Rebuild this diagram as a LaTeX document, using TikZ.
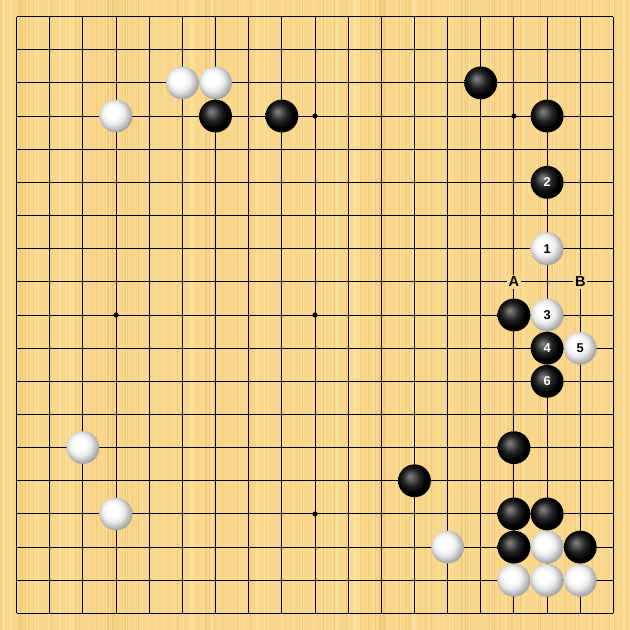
\documentclass[tikz,border=0pt]{standalone}
\usepackage{fontspec}
\setmainfont{Liberation Sans}
\definecolor{board}{RGB}{248,215,140}
\definecolor{graindark}{RGB}{242,203,122}
\definecolor{grainlight}{RGB}{252,225,158}
\pgfdeclareradialshading{whiteball}{\pgfpoint{-7bp}{7bp}}{color(0bp)=(white); color(9bp)=(white); color(17bp)=(black!8); color(25bp)=(black!30); color(32bp)=(black!45); color(50bp)=(black!50)}
\pgfdeclareradialshading{blackball}{\pgfpoint{-7bp}{7bp}}{color(0bp)=(black!48); color(5bp)=(black!62); color(13bp)=(black!86); color(22bp)=(black); color(50bp)=(black)}
\tikzstyle{gridline} = [line width=0.8pt, black]
\tikzstyle{stone} = [circle, minimum size=0.99cm, inner sep=0pt,
    font=\bfseries\fontsize{11}{11}\selectfont]
\tikzstyle{blackstone} = [stone, shading=blackball, text=white]
\tikzstyle{whitestone} = [stone, shading=whiteball, text=black]
\tikzstyle{pointlabel} = [fill=board, inner sep=1.5pt,
    font=\bfseries\fontsize{12.5}{12.5}\selectfont]
\begin{document}
\begin{tikzpicture}[x=1cm,y=-1cm]
  \useasboundingbox (-0.5,-0.5) rectangle (18.5,18.5);
  \clip (-0.5,-0.5) rectangle (18.5,18.5);
  \fill[board] (-0.5,-0.5) rectangle (18.5,18.5);
  % wood grain
  \pgfmathsetseed{11}
  \foreach \k in {1,...,90} {
    \pgfmathsetmacro{\gx}{-0.5+19*rnd}
    \pgfmathsetmacro{\gw}{0.3+0.9*rnd}
    \draw[graindark, line width=\gw pt] (\gx,-0.5) -- (\gx,18.5);
  }
  \foreach \k in {1,...,90} {
    \pgfmathsetmacro{\gx}{-0.5+19*rnd}
    \pgfmathsetmacro{\gw}{0.3+0.9*rnd}
    \draw[grainlight, line width=\gw pt] (\gx,-0.5) -- (\gx,18.5);
  }
  \draw[gridline] (0,0) grid (18,18);
  \foreach \x/\y in {3/3,9/3,15/3,3/9,9/9,15/9,3/15,9/15,15/15}
    \fill (\x,\y) circle (2.2pt);
  % labels
  \node[pointlabel] (A) at (15,8) {A};
  \node[pointlabel] (B) at (17,8) {B};
  % stones
  \foreach \x/\y in {6/3,8/3,14/2,16/3,15/9,15/13,12/14,15/15,16/15,15/16,17/16}
    \node[blackstone] (b-\x-\y) at (\x,\y) {};
  \foreach \x/\y in {5/2,6/2,3/3,2/13,3/15,13/16,16/16,15/17,16/17,17/17}
    \node[whitestone] (w-\x-\y) at (\x,\y) {};
  \node[whitestone] (m1) at (16,7) {1};
  \node[blackstone] (m2) at (16,5) {2};
  \node[whitestone] (m3) at (16,9) {3};
  \node[blackstone] (m4) at (16,10) {4};
  \node[whitestone] (m5) at (17,10) {5};
  \node[blackstone] (m6) at (16,11) {6};
\end{tikzpicture}
\end{document}
